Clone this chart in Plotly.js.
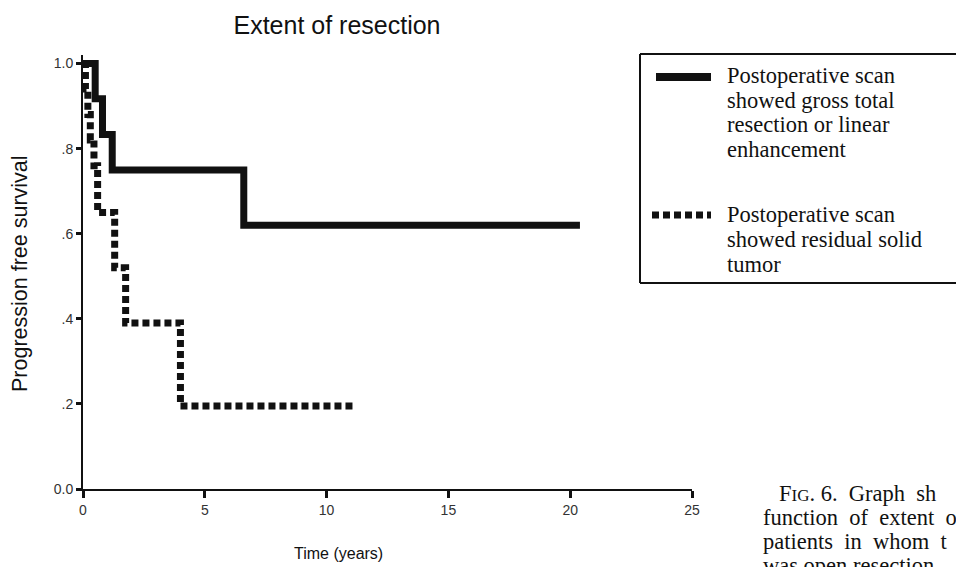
<!DOCTYPE html>
<html>
<head>
<meta charset="utf-8">
<script src="https://cdn.plot.ly/plotly-3.0.1.min.js"></script>
<style>
  html, body { margin: 0; padding: 0; background: #ffffff; overflow: hidden; }
  #chart { width: 956px; height: 567px; }
</style>
</head>
<body>
<div id="chart"></div>
<script>
// ---- data ----
const solidTime = [0, 0.5, 0.8, 1.2, 6.6, 20.4];
const solidSurv = [1.0, 0.917, 0.833, 0.75, 0.62, 0.62];

const dottedTime = [0, 0.1, 0.2, 0.3, 0.45, 0.6, 1.3, 1.75, 4.0, 11.1];
const dottedSurv = [1.0, 0.94, 0.88, 0.82, 0.76, 0.65, 0.52, 0.39, 0.195, 0.195];

const xTickVals = [0, 5, 10, 15, 20, 25];
const xTickText = ["0", "5", "10", "15", "20", "25"];
const yTickVals = [0, 0.2, 0.4, 0.6, 0.8, 1.0];
const yTickText = ["0.0", ".2", ".4", ".6", ".8", "1.0"];

const chartTitle = "Extent of resection";
const xTitle = "Time (years)";
const yTitle = "Progression free survival";

const legendSolidLines = ["Postoperative scan", "showed gross total", "resection or linear", "enhancement"];
const legendDottedLines = ["Postoperative scan", "showed residual solid", "tumor"];

// caption text as far as it is visible at the page edge (justified, so wider spaces)
const captionLines = [
  "F<span style=\"font-size:17px\">IG</span>. 6.&nbsp; Graph&nbsp; sh",
  "function&nbsp; of&nbsp; extent&nbsp; o",
  "patients&nbsp; in&nbsp; whom&nbsp; t",
  "was open resection"
];

// ---- layout geometry (pixels) ----
const W = 956, H = 567;
const M = { l: 83, r: 264, t: 55, b: 78 };
const plotW = W - M.l - M.r;
const plotH = H - M.t - M.b;
const px = v => (v - M.l) / plotW;          // pixel x -> paper x
const py = v => (H - M.b - v) / plotH;      // pixel y -> paper y

const dashPattern = "7px,4px";

const traces = [
  {
    x: solidTime, y: solidSurv, type: "scatter", mode: "lines",
    line: { shape: "hv", color: "#111111", width: 7 },
    name: legendSolidLines.join(" "), showlegend: false, hoverinfo: "skip"
  },
  {
    x: dottedTime, y: dottedSurv, type: "scatter", mode: "lines",
    line: { shape: "hv", color: "#111111", width: 7, dash: dashPattern },
    name: legendDottedLines.join(" "), showlegend: false, hoverinfo: "skip"
  }
];

const serif = "Liberation Serif, Times New Roman, serif";
const sans = "Liberation Sans, Arial, sans-serif";

const annotations = [];
// axis titles
annotations.push({
  text: yTitle, xref: "paper", yref: "paper", x: px(20), y: py(274),
  xanchor: "center", yanchor: "middle", textangle: -90, showarrow: false,
  font: { family: sans, size: 21.5, color: "#111111" }
});
annotations.push({
  text: xTitle, xref: "paper", yref: "paper", x: px(338), y: py(553),
  xanchor: "center", yanchor: "middle", showarrow: false,
  font: { family: sans, size: 16, color: "#111111" }
});
// legend text
const legRowH = 24.5;
legendSolidLines.forEach((t, i) => annotations.push({
  text: t, xref: "paper", yref: "paper", x: px(725), y: py(76 + i * legRowH),
  xanchor: "left", yanchor: "middle", showarrow: false,
  font: { family: serif, size: 22.5, color: "#111111" }
}));
legendDottedLines.forEach((t, i) => annotations.push({
  text: t, xref: "paper", yref: "paper", x: px(725), y: py(215 + i * legRowH),
  xanchor: "left", yanchor: "middle", showarrow: false,
  font: { family: serif, size: 22.5, color: "#111111" }
}));
// caption
captionLines.forEach((t, i) => annotations.push({
  text: t, xref: "paper", yref: "paper", x: px(i === 0 ? 777 : 761), y: py(493 + i * 24),
  xanchor: "left", yanchor: "middle", showarrow: false,
  font: { family: serif, size: 22.5, color: "#111111" }
}));

const shapes = [
  // legend box (right edge falls off the page)
  { type: "line", xref: "paper", yref: "paper", x0: px(640), x1: px(970), y0: py(54), y1: py(54), line: { color: "#111111", width: 2 } },
  { type: "line", xref: "paper", yref: "paper", x0: px(640), x1: px(640), y0: py(54), y1: py(283), line: { color: "#111111", width: 2 } },
  { type: "line", xref: "paper", yref: "paper", x0: px(640), x1: px(970), y0: py(283), y1: py(283), line: { color: "#111111", width: 2 } },
  // legend samples
  { type: "line", xref: "paper", yref: "paper", x0: px(656), x1: px(711), y0: py(77), y1: py(77), line: { color: "#111111", width: 8 } },
  { type: "line", xref: "paper", yref: "paper", x0: px(652), x1: px(711), y0: py(215), y1: py(215), line: { color: "#111111", width: 7, dash: dashPattern } }
];

const layout = {
  width: W, height: H,
  margin: M,
  paper_bgcolor: "#ffffff", plot_bgcolor: "#ffffff",
  showlegend: false,
  title: {
    text: chartTitle, xref: "container", yref: "container",
    x: 337 / W, y: 1 - 25 / H, xanchor: "center", yanchor: "middle",
    font: { family: sans, size: 25, color: "#111111" }
  },
  xaxis: {
    range: [0, 25], tickmode: "array", tickvals: xTickVals, ticktext: xTickText,
    showgrid: false, zeroline: false, showline: true, linecolor: "#111111", linewidth: 2,
    ticks: "outside", ticklen: 7, tickwidth: 3, tickcolor: "#111111",
    tickfont: { family: sans, size: 14, color: "#333333" }
  },
  yaxis: {
    range: [0, 1.02], tickmode: "array", tickvals: yTickVals, ticktext: yTickText,
    showgrid: false, zeroline: false, showline: true, linecolor: "#111111", linewidth: 2,
    ticks: "outside", ticklen: 5, tickwidth: 3, tickcolor: "#111111",
    tickfont: { family: sans, size: 14, color: "#333333" }
  },
  annotations: annotations,
  shapes: shapes
};

Plotly.newPlot("chart", traces, layout, { staticPlot: true, displayModeBar: false });
</script>
</body>
</html>
